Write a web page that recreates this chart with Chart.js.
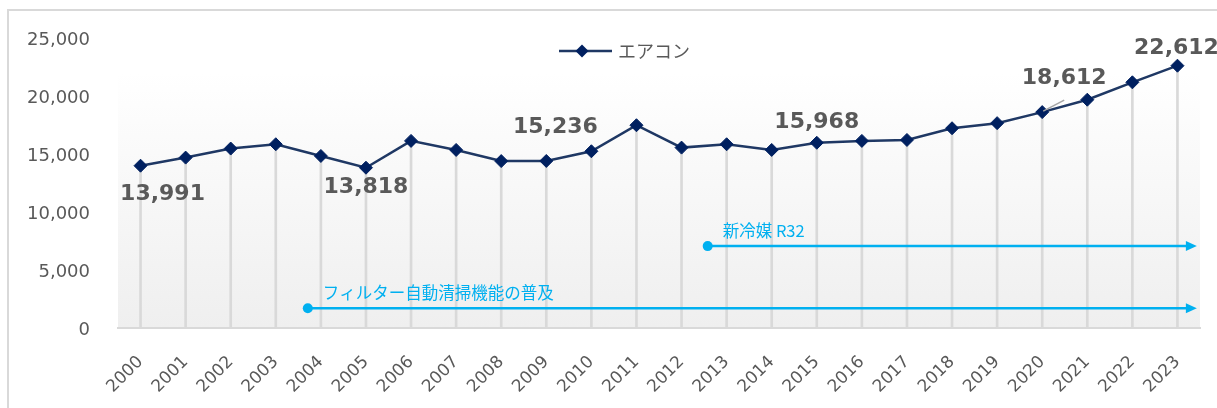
<!DOCTYPE html>
<html><head><meta charset="utf-8">
<script src="https://cdn.jsdelivr.net/npm/chart.js@4.4.1/dist/chart.umd.min.js"></script>
<style>
html,body{margin:0;padding:0;background:#fff;overflow:hidden}
#wrap{position:relative;width:1217px;height:408px}
#frame{position:absolute;left:7px;top:9px;width:1300px;height:500px;border-left:2px solid #d9d9d9;border-top:2px solid #d9d9d9;box-sizing:border-box}
canvas{position:absolute;left:0;top:0}
</style></head><body>
<div id="wrap"><div id="frame"></div><canvas id="c" width="1217" height="408"></canvas></div>
<script>
// ---- data ----
const years = ['2000','2001','2002','2003','2004','2005','2006','2007','2008','2009','2010','2011',
               '2012','2013','2014','2015','2016','2017','2018','2019','2020','2021','2022','2023'];
const sales = [13991,14690,15470,15840,14830,13818,16130,15350,14390,14400,15236,17480,
               15550,15840,15350,15968,16130,16210,17220,17660,18612,19680,21180,22612];
const seriesName = 'エアコン';
const yTickValues = [0,5000,10000,15000,20000,25000];
const labeledYears = ['2000','2005','2010','2015','2020','2023'];
const noteTexts = ['フィルター自動清掃機能の普及','新冷媒 R32'];
const noteStartYear = [2003.71, 2012.58];
const noteEndYear = [2023.43, 2023.43];
const noteLevel = [1710, 7060];

// ---- styling / placement (not data) ----
const labelOffsets = {'2000':[22,29],'2005':[0,20],'2010':[-36,-24],'2015':[0,-20],'2020':[22,-34],'2023':[-1,-17]};
const GRAY = '#595959';
const NOTE = '#00b0f0';

// legend marker image (line + diamond), transparent on its left part
const legImg = document.createElement('canvas');
legImg.width = 87; legImg.height = 16;
(function(){
  const g = legImg.getContext('2d');
  g.strokeStyle = '#1f3864'; g.lineWidth = 2.5;
  g.beginPath(); g.moveTo(33, 8); g.lineTo(86, 8); g.stroke();
  g.fillStyle = '#002060';
  g.beginPath(); g.moveTo(56, 1.5); g.lineTo(62.5, 8); g.lineTo(56, 14.5); g.lineTo(49.5, 8); g.closePath(); g.fill();
})();

const bgPlugin = {
  id: 'bg',
  beforeDraw(chart) {
    const {ctx, chartArea: a} = chart;
    const grad = ctx.createLinearGradient(0, a.top, 0, a.bottom);
    grad.addColorStop(0, '#ffffff');
    grad.addColorStop(0.12, '#ffffff');
    grad.addColorStop(1, '#efefef');
    ctx.save(); ctx.fillStyle = grad;
    ctx.fillRect(a.left, a.top, a.right - a.left, a.bottom - a.top);
    ctx.restore();
  }
};

// move the legend down into the plot area (it keeps its reserved space on top)
const legendShift = {
  id: 'legendShift',
  afterLayout(chart) {
    const l = chart.legend; if (!l) return;
    l.top += 32; l.bottom += 32;
  }
};

const notesPlugin = {
  id: 'notes',
  afterDatasetsDraw(chart) {
    const {ctx} = chart; const xs = chart.scales.x, ys = chart.scales.y;
    ctx.save();
    noteTexts.forEach((t, i) => {
      const x0 = xs.getPixelForValue(noteStartYear[i] - 2000);
      const x1 = xs.getPixelForValue(noteEndYear[i] - 2000);
      const y = ys.getPixelForValue(noteLevel[i]);
      ctx.strokeStyle = NOTE; ctx.fillStyle = NOTE; ctx.lineWidth = 2.5;
      ctx.beginPath(); ctx.moveTo(x0, y); ctx.lineTo(x1 - 9, y); ctx.stroke();
      ctx.beginPath(); ctx.moveTo(x1, y); ctx.lineTo(x1 - 11, y - 5); ctx.lineTo(x1 - 11, y + 5); ctx.closePath(); ctx.fill();
      ctx.beginPath(); ctx.arc(x0, y, 5, 0, Math.PI * 2); ctx.fill();
      ctx.font = '16.5px "Noto Sans CJK JP"'; ctx.textBaseline = 'middle'; ctx.textAlign = 'left';
      ctx.fillText(t, x0 + 15, y - 15);
    });
    ctx.restore();
  }
};

const valueLabelPlugin = {
  id: 'vlabels',
  afterDatasetsDraw(chart) {
    const {ctx} = chart; const meta = chart.getDatasetMeta(0);
    ctx.save();
    ctx.font = 'bold 22px "DejaVu Sans"'; ctx.fillStyle = GRAY;
    ctx.textAlign = 'center'; ctx.textBaseline = 'middle';
    labeledYears.forEach(yr => {
      const i = years.indexOf(yr); const p = meta.data[i];
      const off = labelOffsets[yr];
      if (yr === '2020') {
        ctx.strokeStyle = '#a6a6a6'; ctx.lineWidth = 1.5;
        ctx.beginPath(); ctx.moveTo(p.x + 1, p.y - 1); ctx.lineTo(p.x + 22, p.y - 12); ctx.stroke();
      }
      ctx.fillText(sales[i].toLocaleString('en-US'), p.x + off[0], p.y + off[1]);
    });
    ctx.restore();
  }
};

new Chart(document.getElementById('c'), {
  data: {
    labels: years,
    datasets: [
      {type: 'line', label: seriesName, data: sales, borderColor: '#1f3864', borderWidth: 2.5,
       pointStyle: 'rectRot', pointRadius: 6.5, pointBackgroundColor: '#002060', pointBorderColor: '#002060',
       pointBorderWidth: 1, tension: 0, order: 0},
      {type: 'bar', label: 'drop', data: sales, backgroundColor: '#d9d9d9', barThickness: 2, order: 1}
    ]
  },
  options: {
    responsive: false, animation: false, devicePixelRatio: 1,
    layout: {padding: {left: 20, right: 17, top: 8, bottom: 0}},
    plugins: {
      tooltip: {enabled: false},
      legend: {
        position: 'top', align: 'center',
        labels: {
          usePointStyle: true, pointStyleWidth: 79, padding: 2,
          font: {family: '"Noto Sans CJK JP"', size: 18}, color: GRAY,
          generateLabels: () => [{text: seriesName, pointStyle: legImg,
            fontColor: GRAY, fillStyle: 'transparent', strokeStyle: 'transparent', lineWidth: 0,
            hidden: false, datasetIndex: 0}]
        }
      }
    },
    scales: {
      x: {
        grid: {display: false},
        border: {display: true, color: '#d9d9d9', width: 2},
        ticks: {minRotation: 45, maxRotation: 45, color: GRAY, font: {family: '"DejaVu Sans"', size: 17}, padding: 16},
        afterFit(s) { s.height = 80; }
      },
      y: {
        min: 0, max: 25000,
        afterBuildTicks(s) { s.ticks = yTickValues.map(v => ({value: v})); },
        ticks: {color: GRAY, font: {family: '"DejaVu Sans"', size: 18, lineHeight: '5px'}, padding: 28,
                callback: v => ['', Number(v).toLocaleString('en-US')]},
        grid: {display: false, drawTicks: false},
        border: {display: false},
        afterFit(s) { s.width = 98; }
      }
    }
  },
  plugins: [bgPlugin, legendShift, notesPlugin, valueLabelPlugin]
});
</script>
</body></html>
